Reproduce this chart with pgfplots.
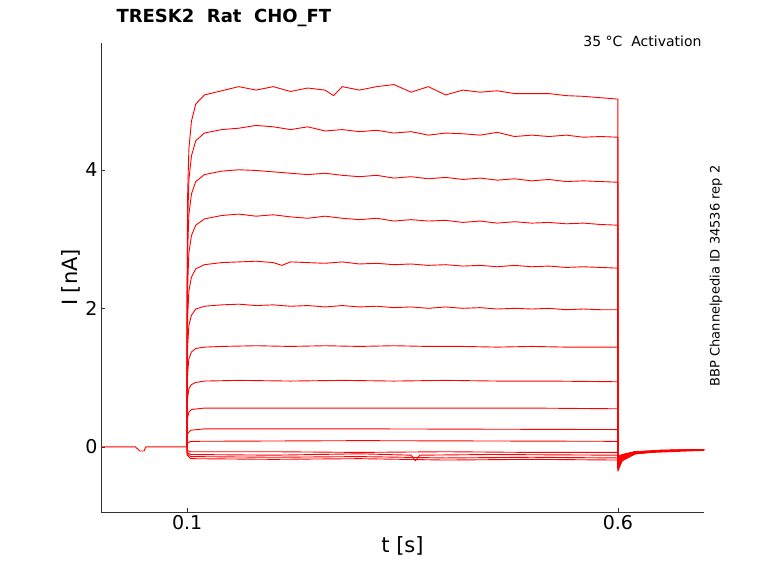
\documentclass[border=0pt]{standalone}
\usepackage{pgfplots}
\pgfplotsset{compat=1.18}
\usepackage{fontspec}
\setmainfont{DejaVu Sans}
\tikzset{tr/.style={red,line width=0.9pt,line join=round,mark=none}}
\begin{document}
\begin{tikzpicture}[x=1pt,y=1pt]
\useasboundingbox (-101,-71) rectangle (677,512);
\begin{axis}[at={(0,0)},anchor=south west,scale only axis,width=603pt,height=469pt,
 xmin=0,xmax=0.7,ymin=-0.94,ymax=5.83,
 axis x line*=bottom, axis y line*=left, axis line style={-,black!80},
 xtick={0.1,0.6}, xticklabels={0.1,0.6}, ytick={0,2,4},
 tick style={black!80}, major tick length=4pt, tick align=inside,
 /pgf/number format/assume math mode=true,
 tick label style={font=\fontsize{19}{22}\selectfont},
 xlabel={t [s]}, ylabel={I [nA]},
 label style={font=\fontsize{21}{25}\selectfont},
 xlabel style={yshift=0pt}, ylabel style={yshift=-2pt},
 clip=false]
\addplot[tr] coordinates {(0,0)(0.04,0)(0.045,-0.06)(0.05,-0.06)(0.052,0)(0.1,0)};
\addplot[tr] coordinates {(0.0999,0)(0.1,2.3)(0.1005,3.6)(0.102,4.3)(0.105,4.7)(0.11,4.95)(0.12,5.08)(0.14,5.14)(0.16,5.2)(0.18,5.15)(0.2,5.2)(0.22,5.13)(0.24,5.18)(0.26,5.15)(0.27,5.07)(0.28,5.2)(0.3,5.15)(0.32,5.2)(0.34,5.23)(0.36,5.12)(0.38,5.2)(0.40,5.08)(0.42,5.15)(0.44,5.12)(0.46,5.14)(0.48,5.1)(0.5,5.1)(0.52,5.1)(0.54,5.07)(0.56,5.06)(0.58,5.04)(0.6,5.02)(0.6,-0.35)(0.605,-0.2)(0.62,-0.1)(0.65,-0.06)(0.7,-0.04)};
\addplot[tr] coordinates {(0.0999,0)(0.1,2.1)(0.1005,3.2)(0.102,3.85)(0.105,4.2)(0.11,4.42)(0.12,4.53)(0.14,4.58)(0.16,4.6)(0.18,4.64)(0.2,4.62)(0.22,4.58)(0.24,4.62)(0.26,4.56)(0.28,4.58)(0.3,4.55)(0.32,4.57)(0.34,4.53)(0.36,4.55)(0.38,4.5)(0.40,4.53)(0.42,4.52)(0.44,4.5)(0.46,4.54)(0.48,4.48)(0.5,4.5)(0.52,4.48)(0.54,4.5)(0.56,4.47)(0.58,4.48)(0.6,4.47)(0.6,-0.32)(0.605,-0.2)(0.62,-0.1)(0.65,-0.06)(0.7,-0.04)};
\addplot[tr] coordinates {(0.0999,0)(0.1,1.8)(0.1005,2.8)(0.102,3.35)(0.105,3.65)(0.11,3.83)(0.12,3.93)(0.14,3.98)(0.16,4.0)(0.18,3.99)(0.2,3.97)(0.22,3.95)(0.24,3.93)(0.26,3.95)(0.28,3.92)(0.3,3.9)(0.32,3.92)(0.34,3.88)(0.36,3.9)(0.38,3.87)(0.40,3.89)(0.42,3.86)(0.44,3.88)(0.46,3.85)(0.48,3.87)(0.5,3.84)(0.52,3.86)(0.54,3.83)(0.56,3.84)(0.58,3.83)(0.6,3.82)(0.6,-0.3)(0.605,-0.18)(0.62,-0.1)(0.65,-0.06)(0.7,-0.04)};
\addplot[tr] coordinates {(0.0999,0)(0.1,1.5)(0.1005,2.3)(0.102,2.8)(0.105,3.05)(0.11,3.2)(0.12,3.29)(0.14,3.34)(0.16,3.36)(0.18,3.33)(0.2,3.35)(0.22,3.32)(0.24,3.3)(0.26,3.33)(0.28,3.3)(0.3,3.28)(0.32,3.3)(0.34,3.26)(0.36,3.28)(0.38,3.26)(0.40,3.27)(0.42,3.24)(0.44,3.26)(0.46,3.23)(0.48,3.25)(0.5,3.23)(0.52,3.24)(0.54,3.22)(0.56,3.23)(0.58,3.21)(0.6,3.2)(0.6,-0.3)(0.605,-0.18)(0.62,-0.1)(0.65,-0.06)(0.7,-0.04)};
\addplot[tr] coordinates {(0.0999,0)(0.1,1.2)(0.1005,1.85)(0.102,2.25)(0.105,2.45)(0.11,2.57)(0.12,2.63)(0.14,2.66)(0.16,2.67)(0.18,2.68)(0.2,2.66)(0.21,2.62)(0.22,2.67)(0.24,2.66)(0.26,2.65)(0.28,2.67)(0.3,2.64)(0.32,2.65)(0.34,2.63)(0.36,2.64)(0.38,2.62)(0.40,2.63)(0.42,2.61)(0.44,2.62)(0.46,2.6)(0.48,2.62)(0.5,2.6)(0.52,2.61)(0.54,2.59)(0.56,2.6)(0.58,2.59)(0.6,2.58)(0.6,-0.28)(0.605,-0.17)(0.62,-0.09)(0.65,-0.06)(0.7,-0.04)};
\addplot[tr] coordinates {(0.0999,0)(0.1,0.95)(0.1005,1.45)(0.102,1.75)(0.105,1.9)(0.11,1.99)(0.12,2.03)(0.14,2.05)(0.16,2.06)(0.18,2.04)(0.2,2.05)(0.22,2.03)(0.24,2.04)(0.26,2.02)(0.28,2.04)(0.3,2.02)(0.32,2.03)(0.34,2.01)(0.36,2.02)(0.38,2.0)(0.40,2.02)(0.42,2.0)(0.44,2.01)(0.46,1.99)(0.48,2.0)(0.5,1.99)(0.52,2.0)(0.54,1.98)(0.56,1.99)(0.58,1.98)(0.6,1.98)(0.6,-0.27)(0.605,-0.16)(0.62,-0.09)(0.65,-0.06)(0.7,-0.04)};
\addplot[tr] coordinates {(0.0999,0)(0.1,0.7)(0.1005,1.05)(0.102,1.27)(0.105,1.37)(0.11,1.42)(0.12,1.44)(0.14,1.45)(0.18,1.46)(0.22,1.45)(0.26,1.46)(0.3,1.45)(0.34,1.46)(0.38,1.45)(0.42,1.45)(0.46,1.44)(0.5,1.45)(0.54,1.44)(0.58,1.44)(0.6,1.44)(0.6,-0.25)(0.605,-0.15)(0.62,-0.09)(0.65,-0.05)(0.7,-0.04)};
\addplot[tr] coordinates {(0.0999,0)(0.1,0.45)(0.1005,0.7)(0.102,0.84)(0.105,0.9)(0.11,0.93)(0.12,0.95)(0.16,0.96)(0.22,0.95)(0.28,0.96)(0.34,0.95)(0.4,0.96)(0.46,0.95)(0.52,0.95)(0.6,0.94)(0.6,-0.22)(0.605,-0.14)(0.62,-0.08)(0.65,-0.05)(0.7,-0.04)};
\addplot[tr] coordinates {(0.0999,0)(0.1,0.28)(0.1005,0.42)(0.102,0.5)(0.105,0.54)(0.12,0.56)(0.2,0.56)(0.3,0.56)(0.4,0.56)(0.5,0.56)(0.6,0.55)(0.6,-0.2)(0.605,-0.13)(0.62,-0.08)(0.65,-0.05)(0.7,-0.04)};
\addplot[tr] coordinates {(0.0999,0)(0.1,0.13)(0.101,0.2)(0.104,0.24)(0.12,0.26)(0.3,0.26)(0.6,0.25)(0.6,-0.18)(0.605,-0.12)(0.62,-0.07)(0.65,-0.05)(0.7,-0.04)};
\addplot[tr] coordinates {(0.0999,0)(0.1,0.05)(0.104,0.08)(0.3,0.09)(0.6,0.08)(0.6,-0.16)(0.605,-0.11)(0.62,-0.07)(0.7,-0.04)};
\addplot[tr] coordinates {(0.0999,0)(0.1,-0.05)(0.104,-0.07)(0.2,-0.07)(0.3,-0.08)(0.4,-0.07)(0.5,-0.08)(0.6,-0.08)(0.6,-0.14)(0.62,-0.07)(0.7,-0.04)};
\addplot[tr] coordinates {(0.0999,0)(0.1,-0.08)(0.104,-0.11)(0.2,-0.12)(0.3,-0.1)(0.36,-0.12)(0.365,-0.2)(0.37,-0.12)(0.45,-0.11)(0.6,-0.12)(0.6,-0.13)(0.62,-0.07)(0.7,-0.04)};
\addplot[tr] coordinates {(0.0999,0)(0.1,-0.1)(0.104,-0.14)(0.2,-0.15)(0.3,-0.14)(0.4,-0.16)(0.5,-0.15)(0.6,-0.16)(0.62,-0.08)(0.7,-0.04)};
\addplot[tr] coordinates {(0.0999,0)(0.1,-0.12)(0.104,-0.17)(0.2,-0.18)(0.3,-0.17)(0.4,-0.19)(0.5,-0.18)(0.6,-0.19)(0.62,-0.09)(0.7,-0.05)};
\end{axis}
\node[anchor=west,font=\fontsize{18}{21}\selectfont\bfseries] at (12,494) {TRESK2\ \ Rat\ \ CHO\_FT};
\node[anchor=east,font=\fontsize{14}{17}\selectfont] at (604,471) {35 °C\ \ Activation};
\node[rotate=90,font=\fontsize{13}{15}\selectfont] at (615,236) {BBP Channelpedia ID 34536 rep 2};
\end{tikzpicture}
\end{document}
